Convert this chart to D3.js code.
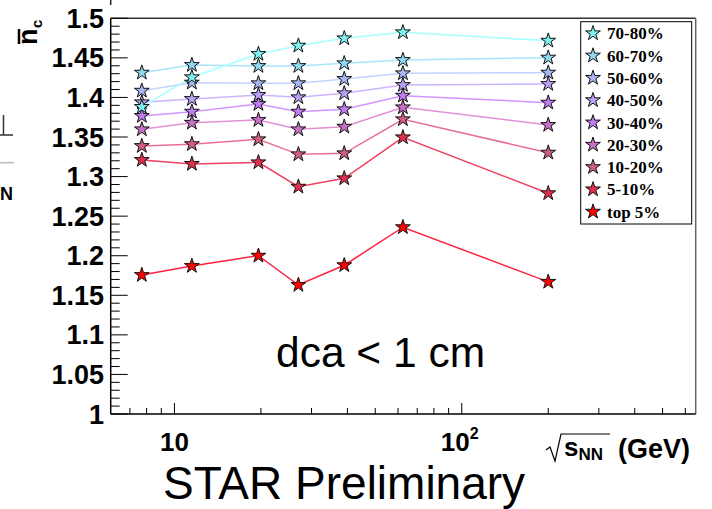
<!DOCTYPE html>
<html><head><meta charset="utf-8">
<script src="https://cdn.jsdelivr.net/npm/d3@7"></script>
<style>body{margin:0;background:#fff}svg{display:block}</style>
</head><body>
<svg id="c" width="712" height="509"></svg>
<script>
const energies = [7.7, 11.5, 19.6, 27, 39, 62.4, 200];
const labels = ["70-80%", "60-70%", "50-60%", "40-50%", "30-40%", "20-30%", "10-20%", "5-10%", "top 5%"];
const c7080 = [1.388, 1.4255, 1.4549, 1.4654, 1.4747, 1.4823, 1.4717];
const c6070 = [1.4313, 1.441, 1.4397, 1.4397, 1.4431, 1.4473, 1.4503];
const c5060 = [1.4085, 1.4187, 1.4179, 1.4179, 1.4233, 1.4305, 1.4313];
const c4050 = [1.3938, 1.398, 1.4031, 1.4002, 1.4052, 1.4157, 1.417];
const c3040 = [1.3766, 1.382, 1.3917, 1.382, 1.385, 1.4022, 1.3934];
const c2030 = [1.3597, 1.368, 1.3715, 1.3597, 1.363, 1.3875, 1.3652];
const c1020 = [1.3386, 1.341, 1.3471, 1.3281, 1.3294, 1.3724, 1.3302];
const c0510 = [1.321, 1.316, 1.318, 1.2872, 1.2978, 1.3496, 1.2789];
const c0005 = [1.1756, 1.187, 1.2, 1.163, 1.188, 1.236, 1.167];
const seriesValues = [c7080, c6070, c5060, c4050, c3040, c2030, c1020, c0510, c0005];
const fills = ["#80f2f2", "#90d8f2", "#a8b8f4", "#b8a0f4", "#c07cf0", "#c870c4", "#d06080", "#e03050", "#ff0000"];
const lineCols = ["#a8ffff", "#a8e4fa", "#c4d2ff", "#ccb4ff", "#d494ff", "#e090d4", "#e87090", "#f04060", "#ff2040"];
const yTicks = [1, 1.05, 1.1, 1.15, 1.2, 1.25, 1.3, 1.35, 1.4, 1.45, 1.5];
const yTickLabels = ["1", "1.05", "1.1", "1.15", "1.2", "1.25", "1.3", "1.35", "1.4", "1.45", "1.5"];
const xMajor = [10, 100];
const xMinor = [7, 8, 9, 20, 30, 40, 50, 60, 70, 80, 90, 200, 300, 400, 500, 600];

const svg = d3.select("#c");
const L = 110.7, R = 695.7, T = 18.3, B = 414;
const x = d3.scaleLog().domain([6, 652]).range([L, R]);
const y = d3.scaleLinear().domain([1, 1.5]).range([B, T]);
const sans = "'Liberation Sans', Arial, Helvetica, sans-serif";
const serif = "'Liberation Serif', 'Times New Roman', serif";

// edge artifacts
svg.append("line").attr("x1", L).attr("x2", L).attr("y1", 0).attr("y2", 5).attr("stroke", "#222").attr("stroke-width", 1.5);
svg.append("path").attr("d", "M3.5,115 L3.5,135 M0,135 L13,135").attr("stroke", "#333").attr("stroke-width", 1.5).attr("fill", "none");
svg.append("line").attr("x1", 0).attr("x2", 14).attr("y1", 162.7).attr("y2", 162.7).attr("stroke", "#bbb").attr("stroke-width", 1.5);
svg.append("text").attr("x", 0).attr("y", 200).attr("font-family", sans).attr("font-weight", "bold").attr("font-size", 18).text("N");

// frame
svg.append("line").attr("x1", L).attr("x2", R).attr("y1", T).attr("y2", T).attr("stroke", "#333").attr("stroke-width", 1.5);
svg.append("line").attr("x1", R).attr("x2", R).attr("y1", T).attr("y2", B).attr("stroke", "#666").attr("stroke-width", 1.5);

// y axis
const yMinor = d3.range(100, 151).map(d => d / 100);
svg.append("g").selectAll("line").data(yMinor).join("line")
  .attr("x1", L).attr("x2", (d, i) => L + (i % 5 === 0 ? 17 : 9))
  .attr("y1", d => y(d)).attr("y2", d => y(d)).attr("stroke", "#000").attr("stroke-width", 1);
svg.append("line").attr("x1", L).attr("x2", L).attr("y1", T).attr("y2", B).attr("stroke", "#000").attr("stroke-width", 1.5);
svg.append("g").selectAll("text").data(yTicks).join("text")
  .attr("x", 104).attr("y", d => y(d) + 9.5).attr("text-anchor", "end")
  .attr("font-family", sans).attr("font-weight", "bold").attr("font-size", 27)
  .text((d, i) => yTickLabels[i]);

// x axis
svg.append("g").selectAll("line").data(xMinor).join("line")
  .attr("x1", d => x(d)).attr("x2", d => x(d)).attr("y1", B).attr("y2", B - 6).attr("stroke", "#000");
svg.append("g").selectAll("line").data(xMajor).join("line")
  .attr("x1", d => x(d)).attr("x2", d => x(d)).attr("y1", B).attr("y2", B - 11).attr("stroke", "#000");
svg.append("line").attr("x1", L).attr("x2", R).attr("y1", B).attr("y2", B).attr("stroke", "#000").attr("stroke-width", 1.5);
svg.append("text").attr("x", x(10)).attr("y", 451).attr("text-anchor", "middle")
  .attr("font-family", sans).attr("font-weight", "bold").attr("font-size", 26).text("10");
const t2 = svg.append("text").attr("x", x(100) - 21).attr("y", 451)
  .attr("font-family", sans).attr("font-weight", "bold").attr("font-size", 26);
t2.append("tspan").text("10");
t2.append("tspan").attr("font-size", 16).attr("dy", -12).text("2");

// x axis title
svg.append("path").attr("d", "M546,450 L550,447 L555,461 L561,434 L610,434")
  .attr("stroke", "#000").attr("stroke-width", 1.2).attr("fill", "none");
const xt = svg.append("text").attr("x", 564).attr("y", 456).attr("font-family", sans).attr("font-weight", "bold").attr("font-size", 26);
xt.append("tspan").text("s");
xt.append("tspan").attr("font-size", 17).attr("dy", 4).text("NN");
xt.append("tspan").attr("x", 618).attr("dy", -2).attr("font-size", 27).text("(GeV)");

// y axis title
const yt = svg.append("g").attr("transform", "translate(37,45) rotate(-90)");
yt.append("text").attr("x", 0).attr("y", 0).attr("font-family", sans).attr("font-weight", "bold").attr("font-size", 27).text("n");
yt.append("line").attr("x1", 1).attr("x2", 16).attr("y1", -18).attr("y2", -18).attr("stroke", "#000").attr("stroke-width", 2.5);
yt.append("text").attr("x", 17).attr("y", 5).attr("font-family", sans).attr("font-weight", "bold").attr("font-size", 15).text("c");

// texts
svg.append("text").attr("x", 276).attr("y", 367).attr("font-family", sans).attr("font-size", 42.5).text("dca < 1 cm");
svg.append("text").attr("x", 163).attr("y", 499).attr("font-family", sans).attr("font-size", 46).text("STAR Preliminary");

// series
const star = d3.symbol().type(d3.symbolStar).size(68);
const line = d3.line().x((d, i) => x(energies[i])).y(d => y(d));
const order = d3.range(seriesValues.length).reverse();
order.forEach(k => {
  svg.append("path").attr("d", line(seriesValues[k])).attr("fill", "none")
    .attr("stroke", lineCols[k]).attr("stroke-width", 1.5);
});
order.forEach(k => {
  svg.append("g").selectAll("path").data(seriesValues[k]).join("path")
    .attr("d", star)
    .attr("transform", (d, i) => `translate(${x(energies[i])},${y(d)})`)
    .attr("fill", fills[k]).attr("stroke", "#111").attr("stroke-width", 1);
});

// legend
const lg = svg.append("g");
lg.append("rect").attr("x", 580.7).attr("y", 21.7).attr("width", 111).attr("height", 202.3)
  .attr("fill", "#fff").attr("stroke", "#000").attr("stroke-width", 1);
labels.forEach((lab, i) => {
  const cy = 33.3 + i * 22.3;
  lg.append("path").attr("d", star).attr("transform", `translate(593,${cy})`)
    .attr("fill", fills[i]).attr("stroke", "#111").attr("stroke-width", 1);
  lg.append("text").attr("x", 607).attr("y", cy + 6).attr("font-family", serif)
    .attr("font-weight", "bold").attr("font-size", 17).text(lab);
});
</script>
</body></html>
